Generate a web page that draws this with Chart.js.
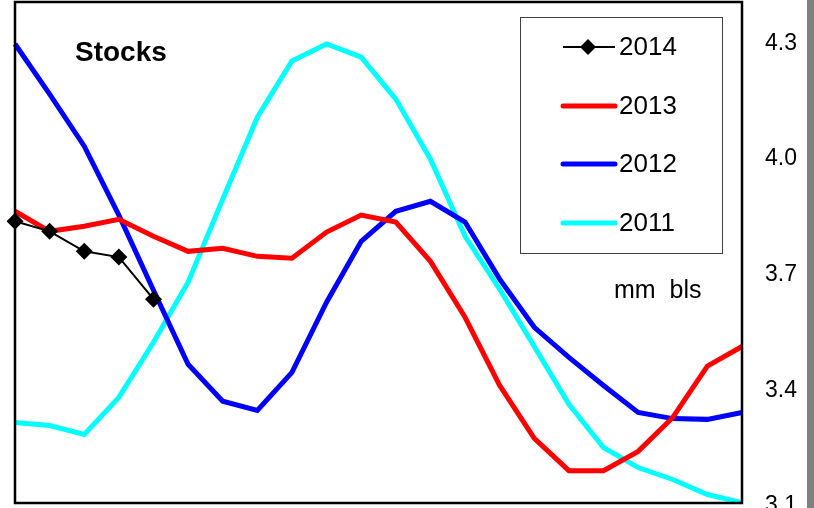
<!DOCTYPE html>
<html>
<head>
<meta charset="utf-8">
<script src="https://cdn.jsdelivr.net/npm/chart.js@4.4.1/dist/chart.umd.min.js"></script>
<style>
  html, body { margin: 0; padding: 0; background: #fff; }
  #wrap { position: relative; width: 814px; height: 508px; overflow: hidden; }
  #edge { position: absolute; left: 807px; top: 0; width: 7px; height: 508px; background: #808080; }
</style>
</head>
<body>
<div id="wrap">
  <canvas id="stocks" width="814" height="508"></canvas>
  <div id="edge"></div>
</div>
<script>
// DATA
const weeks = ["1","2","3","4","5","6","7","8","9","10","11","12","13","14","15","16","17","18","19","20","21","22"];
const s2014 = [3.831, 3.805, 3.753, 3.738, 3.629];
const s2013 = [3.857, 3.805, 3.818, 3.836, 3.792, 3.753, 3.761, 3.740, 3.735, 3.803, 3.847,
               3.829, 3.727, 3.582, 3.405, 3.268, 3.184, 3.184, 3.234, 3.322, 3.455, 3.506];
const s2012 = [4.291, 4.161, 4.026, 3.847, 3.652, 3.460, 3.364, 3.340, 3.439, 3.621, 3.779,
               3.857, 3.883, 3.829, 3.681, 3.556, 3.478, 3.405, 3.335, 3.319, 3.317, 3.335];
const s2011 = [3.309, 3.301, 3.278, 3.374, 3.517, 3.673, 3.888, 4.101, 4.247, 4.291, 4.257,
               4.148, 3.992, 3.792, 3.655, 3.506, 3.356, 3.244, 3.192, 3.161, 3.122, 3.101];
const yTicks = [3.1, 3.4, 3.7, 4.0, 4.3];

const FONT = "'Liberation Sans', Arial, sans-serif";

// FRAME + TEXT + LEGEND
const decor = {
    id: "decor",
    afterDraw(chart) {
        let ctx = chart.ctx;
        let a = chart.chartArea;
        ctx.save();
        ctx.strokeStyle = "#000";
        ctx.lineWidth = 2.5;
        ctx.strokeRect(a.left, a.top, a.right - a.left, a.bottom - a.top);

        ctx.fillStyle = "#000";
        ctx.textBaseline = "middle";
        ctx.font = "bold 28px " + FONT;
        ctx.fillText("Stocks", 75, 53);
        ctx.font = "25px " + FONT;
        ctx.fillText("mm  bls", 614, 291);

        // legend box
        ctx.strokeStyle = "#404040";
        ctx.lineWidth = 1;
        ctx.strokeRect(520.5, 17.5, 202, 236);
        ctx.font = "26px " + FONT;
        let rowsY = [47, 106, 164, 223];
        chart.data.datasets.forEach((ds, i) => {
            let y = rowsY[i];
            ctx.beginPath();
            ctx.strokeStyle = ds.borderColor;
            ctx.lineWidth = ds.borderWidth;
            ctx.lineCap = ds.borderWidth > 3 ? "round" : "butt";
            ctx.moveTo(563, y);
            ctx.lineTo(615, y);
            ctx.stroke();
            if (ds.pointRadius > 0) {
                ctx.beginPath();
                ctx.fillStyle = "#000";
                ctx.moveTo(588, y - 8);
                ctx.lineTo(596, y);
                ctx.lineTo(588, y + 8);
                ctx.lineTo(580, y);
                ctx.closePath();
                ctx.fill();
            }
            ctx.fillStyle = "#000";
            ctx.fillText(ds.label, 619, y + 1);
        });
        ctx.restore();
    }
};

new Chart(document.getElementById("stocks"), {
    type: "line",
    data: {
        labels: weeks,
        datasets: [
            { label: "2014", data: s2014, borderColor: "#000", backgroundColor: "#000", borderWidth: 2,
              pointStyle: "rectRot", pointRadius: 8.5, pointBackgroundColor: "#000", pointBorderWidth: 0 },
            { label: "2013", data: s2013, borderColor: "#ff0000", borderWidth: 5, pointRadius: 0 },
            { label: "2012", data: s2012, borderColor: "#0000ff", borderWidth: 5, pointRadius: 0 },
            { label: "2011", data: s2011, borderColor: "#00ffff", borderWidth: 5, pointRadius: 0 }
        ]
    },
    options: {
        responsive: false,
        animation: false,
        devicePixelRatio: 1,
        layout: { autoPadding: false, padding: { left: 15, top: 2, bottom: 5, right: 0 } },
        plugins: { legend: { display: false }, tooltip: { enabled: false } },
        elements: { line: { tension: 0 } },
        scales: {
            x: { display: false, offset: false },
            y: {
                position: "right",
                min: 3.1,
                max: 4.4,
                grid: { display: false, drawTicks: false },
                border: { display: false },
                afterBuildTicks: (scale) => { scale.ticks = yTicks.map(v => ({ value: v })); },
                afterFit: (scale) => {
                    scale.width = 72;
                    scale.paddingTop = 0;
                    scale.paddingBottom = 0;
                },
                ticks: {
                    color: "#000",
                    padding: 23,
                    labelOffset: 3,
                    font: { family: FONT, size: 23 },
                    callback: (v) => Number(v).toFixed(1)
                }
            }
        }
    },
    plugins: [decor]
});
</script>
</body>
</html>
